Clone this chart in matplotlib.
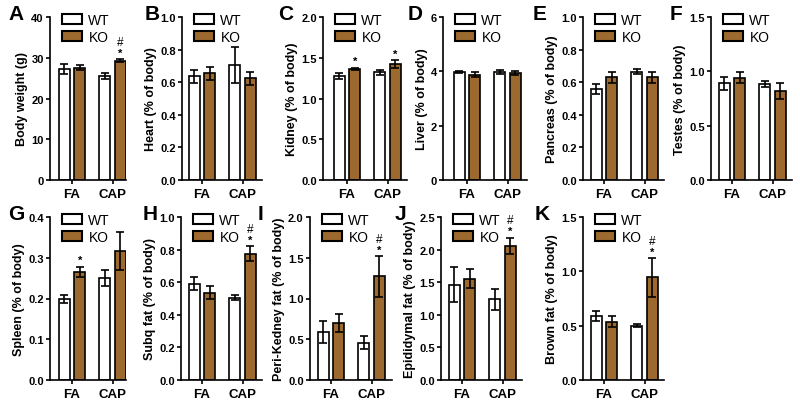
import matplotlib
matplotlib.use("Agg")
import matplotlib.pyplot as plt
from matplotlib.patches import Patch
from matplotlib import font_manager

plt.rcParams['font.family'] = ['Liberation Sans', 'DejaVu Sans']
names = {f.name for f in font_manager.fontManager.ttflist}
narrow = 'Liberation Sans Narrow' if 'Liberation Sans Narrow' in names else 'Liberation Sans'

groups = ["FA", "CAP"]
brown = "#9C6A2E"

letters = ["A", "B", "C", "D", "E", "F", "G", "H", "I", "J", "K"]
ylabels = ["Body weight (g)", "Heart (% of body)", "Kidney (% of body)", "Liver (% of body)",
           "Pancreas (% of body)", "Testes (% of body)", "Spleen (% of body)", "Subq fat (% of body)",
           "Peri-Kedney fat (% of body)", "Epididymal fat (% of body)", "Brown fat (% of body)"]
ymax = [40, 1.0, 2.0, 6, 1.0, 1.5, 0.4, 1.0, 2.0, 2.5, 1.5]
ystep = [10, 0.2, 0.5, 2, 0.2, 0.5, 0.1, 0.2, 0.5, 0.5, 0.5]

wt_mean = [[27.2, 25.5], [0.635, 0.705], [1.275, 1.32], [3.98, 3.98], [0.56, 0.665],
           [0.89, 0.885], [0.198, 0.25], [0.59, 0.505], [0.59, 0.46], [1.46, 1.235], [0.588, 0.50]]
wt_err = [[1.2, 0.7], [0.04, 0.11], [0.035, 0.03], [0.05, 0.06], [0.03, 0.015],
          [0.06, 0.025], [0.01, 0.02], [0.04, 0.015], [0.14, 0.08], [0.27, 0.16], [0.045, 0.015]]
ko_mean = [[27.6, 29.3], [0.655, 0.625], [1.365, 1.42], [3.88, 3.93], [0.63, 0.63],
           [0.94, 0.82], [0.265, 0.317], [0.536, 0.775], [0.70, 1.27], [1.555, 2.055], [0.535, 0.945]]
ko_err = [[0.6, 0.4], [0.04, 0.04], [0.015, 0.05], [0.08, 0.08], [0.035, 0.035],
          [0.05, 0.075], [0.013, 0.046], [0.04, 0.045], [0.11, 0.25], [0.14, 0.13], [0.05, 0.18]]
ko_marks = [["", "*#"], ["", ""], ["*", "*"], ["", ""], ["", ""], ["", ""],
            ["*", ""], ["", "*#"], ["", "*#"], ["", "*#"], ["", "*#"]]

# layout in pixels of the 800x402 canvas
W, H = 800, 402
left_px = [50, 182, 323, 443, 583, 711, 50, 181, 310, 441, 583]
fa_px = [72, 202, 347, 467, 604, 732, 72, 202, 331, 462, 604]
right_px = [126, 262, 407, 527, 664, 792, 126, 262, 392, 522, 664]
top_px = [18] * 6 + [218] * 5
ax_h = 163
letter_px = [8, 145, 278, 408, 533, 670, 8, 143, 258, 395, 535]
unit = 40.5  # px between FA and CAP

fig = plt.figure(figsize=(8, 4.02), dpi=100)

bw = 0.28
off = 0.19
for i in range(11):
    ax = fig.add_axes([left_px[i] / W, 1 - (top_px[i] + ax_h) / H,
                       (right_px[i] - left_px[i]) / W, ax_h / H])
    xs = [0, 1]
    wx = [x - off for x in xs]
    kx = [x + off for x in xs]
    ax.bar(wx, wt_mean[i], bw, color="white", edgecolor="black", linewidth=1.2, zorder=2)
    ax.bar(kx, ko_mean[i], bw, color=brown, edgecolor="black", linewidth=1.2, zorder=2)
    ax.errorbar(wx, wt_mean[i], yerr=wt_err[i], fmt="none", ecolor="black",
                elinewidth=1.2, capsize=3, capthick=1.2, zorder=3)
    ax.errorbar(kx, ko_mean[i], yerr=ko_err[i], fmt="none", ecolor="black",
                elinewidth=1.2, capsize=3, capthick=1.2, zorder=3)
    for j in range(2):
        m = ko_marks[i][j]
        top = ko_mean[i][j] + ko_err[i][j]
        if "*" in m:
            ax.annotate("*", (kx[j], top), xytext=(0, 1), textcoords="offset points",
                        ha="center", va="bottom", fontsize=8, fontweight="bold")
        if "#" in m:
            ax.annotate("#", (kx[j], top), xytext=(0, 8), textcoords="offset points",
                        ha="center", va="bottom", fontsize=8.5)

    lo = -(fa_px[i] - left_px[i]) / unit
    hi = (right_px[i] - fa_px[i]) / unit
    ax.set_xlim(lo, hi)
    ax.set_ylim(0, ymax[i])
    n = int(round(ymax[i] / ystep[i]))
    ticks = [k * ystep[i] for k in range(n + 1)]
    ax.set_yticks(ticks)
    if ystep[i] >= 1:
        ax.set_yticklabels([str(int(t)) for t in ticks])
    else:
        ax.set_yticklabels(["%.1f" % t for t in ticks])
    ax.set_xticks(xs)
    ax.set_xticklabels(groups)
    for sp in ["top", "right"]:
        ax.spines[sp].set_visible(False)
    for sp in ["left", "bottom"]:
        ax.spines[sp].set_linewidth(1.2)
    ax.tick_params(direction="out", length=3, width=1.2, pad=1.5)
    ax.tick_params(axis="x", pad=3)
    for lab in ax.get_yticklabels():
        lab.set_fontweight("bold")
        lab.set_fontsize(8)
        lab.set_family([narrow, 'DejaVu Sans'])
    for lab in ax.get_xticklabels():
        lab.set_fontweight("bold")
        lab.set_fontsize(9.5)
        lab.set_family([narrow, 'DejaVu Sans'])
    ax.set_ylabel(ylabels[i], fontsize=9, fontweight="bold", labelpad=2)

    handles = [Patch(facecolor="white", edgecolor="black", linewidth=1.5, label="WT"),
               Patch(facecolor=brown, edgecolor="black", linewidth=1.5, label="KO")]
    ax.legend(handles=handles, loc="upper left", bbox_to_anchor=(12 / (right_px[i] - left_px[i]), 1.025),
              frameon=False, fontsize=10, handlelength=1.45, handleheight=0.72,
              handletextpad=0.45, labelspacing=0.2, borderaxespad=0, borderpad=0)

    fig.text(letter_px[i] / W, 1 - (top_px[i] - 3) / H, letters[i],
             fontsize=15, fontweight="bold", va="center", ha="left")

fig.savefig("out.png", dpi=100)
